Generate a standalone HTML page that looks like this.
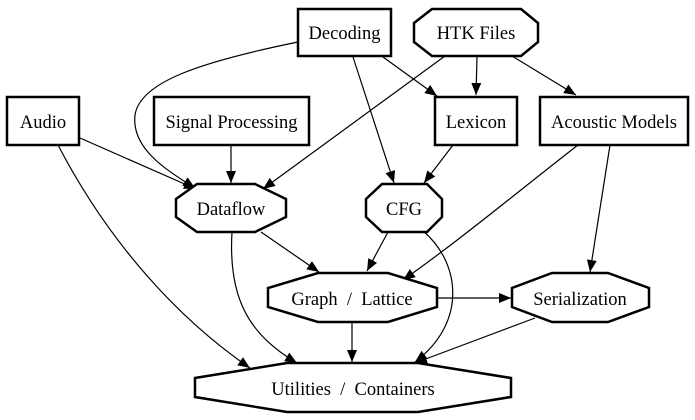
<!DOCTYPE html>
<html><head><meta charset="utf-8"><style>
html,body{margin:0;padding:0;background:#fff;}
svg{display:block;}
text{font-family:"Liberation Serif",serif;font-size:18.5px;fill:#000;text-anchor:middle;dominant-baseline:central;white-space:pre;}
.n{fill:#fff;stroke:#000;stroke-width:2.5;}
.e{fill:none;stroke:#000;stroke-width:1.2;marker-end:url(#a);}
</style></head><body>
<svg width="695" height="420" viewBox="0 0 695 420" xmlns="http://www.w3.org/2000/svg" xml:space="preserve">
<defs><marker id="a" markerWidth="12" markerHeight="10" refX="12" refY="5" orient="auto" markerUnits="userSpaceOnUse"><path d="M0,0 L12,5 L0,10 z" fill="#000"/></marker></defs>

<path class="e" d="M298,42 C200,62 140,82 135,115 C131,150 170,172 195,188"/>
<path class="e" d="M383,57 L437,96"/>
<path class="e" d="M353,57 L394,183"/>
<path class="e" d="M477,57 L476,95"/>
<path class="e" d="M512,56 L576,95"/>
<path class="e" d="M445,56 L263,189"/>
<path class="e" d="M80,138 L196,189"/>
<path class="e" d="M231,145 L231,183"/>
<path class="e" d="M58,145 C110,245 180,320 250,368"/>
<path class="e" d="M453,145 L424,183"/>
<path class="e" d="M578,145 C520,190 460,240 403,280"/>
<path class="e" d="M610,145 L590,272"/>
<path class="e" d="M261,232 L319,272"/>
<path class="e" d="M232,232 C228,300 250,335 297,363"/>
<path class="e" d="M388,232 L367,271"/>
<path class="e" d="M423,231 C460,262 468,322 415,362"/>
<path class="e" d="M437,298 L511,298"/>
<path class="e" d="M352,322 L352,362"/>
<path class="e" d="M535,318 L415,363"/>

<rect class="n" x="298" y="9" width="93" height="47"/><text x="344.5" y="34">Decoding</text>
<polygon class="n" points="432,9 521,9 538,23 538,42 521,56 432,56 414,42 414,23"/><text x="476" y="34">HTK Files</text>
<rect class="n" x="7" y="97" width="72" height="48"/><text x="43" y="123">Audio</text>
<rect class="n" x="154" y="97" width="155" height="48"/><text x="231.5" y="123">Signal Processing</text>
<rect class="n" x="435" y="97" width="82" height="48"/><text x="476" y="123">Lexicon</text>
<rect class="n" x="540" y="97" width="148" height="48"/><text x="614" y="123">Acoustic Models</text>
<polygon class="n" points="197,184 255,184 286,199 286,217 255,232 197,232 176,217 176,199"/><text x="231" y="210">Dataflow</text>
<polygon class="n" points="382,184 427,184 442,199 442,217 427,232 382,232 366,217 366,199"/><text x="404" y="210">CFG</text>
<polygon class="n" points="318,273 388,273 437,288 437,307 388,322 318,322 268,307 268,288"/><text x="352" y="300">Graph  /  Lattice</text>
<polygon class="n" points="552,273 608,273 649,288 649,307 608,322 552,322 512,307 512,288"/><text x="580" y="300">Serialization</text>
<polygon class="n" points="287,363 418,363 511,378 511,397 418,412 287,412 195,397 195,378"/><text x="353" y="390">Utilities  /  Containers</text>
</svg>
</body></html>
